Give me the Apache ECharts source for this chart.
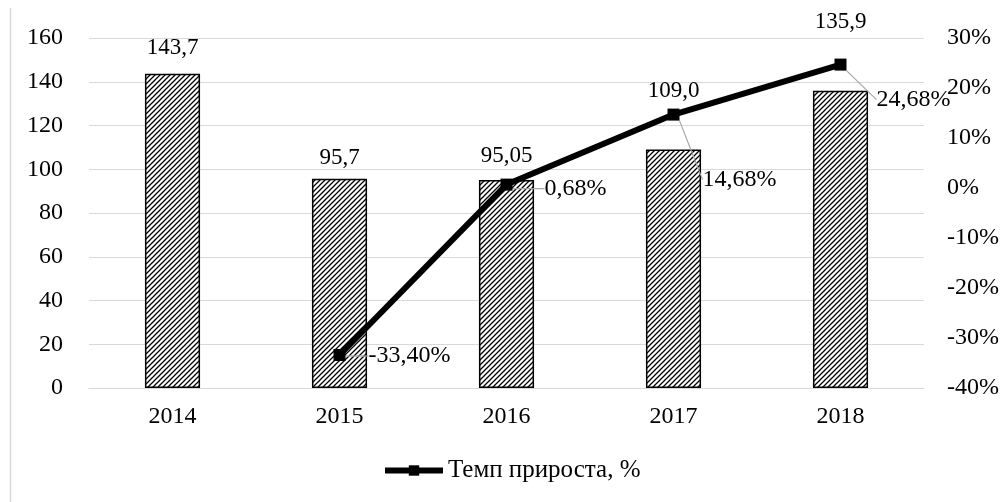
<!DOCTYPE html>
<html><head><meta charset="utf-8">
<script src="https://cdn.jsdelivr.net/npm/echarts@6/dist/echarts.min.js"></script>
<style>html,body{margin:0;padding:0;background:#fff}#c{width:1008px;height:502px}</style>
</head><body><div id="c"></div>
<script>
const categories = ['2014','2015','2016','2017','2018'];
const barValues = [143.7, 95.7, 95.05, 109.0, 135.9];
const barDecimals = [1, 1, 2, 1, 1];
const growthValues = [null, -33.40, 0.68, 14.68, 24.68];
const leftTicks = {min: 0, max: 160, interval: 20};
const rightTicks = {min: -40, max: 30, interval: 10};
const seriesName = 'Темп прироста, %';

// presentation-only offsets for labels
const barLabelOffsets = [[0,-9],[0,-4],[0,-8],[0,-42],[0,-52]];
const lineLabelShift = [[1,1],[10,4],[1,65],[8,35]];

const FONT = '"Liberation Serif", "Times New Roman", serif';

function hatch(){
  const c = document.createElement('canvas');
  c.width = 5; c.height = 5;
  const g = c.getContext('2d');
  g.fillStyle = '#fff'; g.fillRect(0,0,5,5);
  g.strokeStyle = '#000'; g.lineWidth = 1.3;
  g.beginPath();
  g.moveTo(-1,6); g.lineTo(6,-1);
  g.moveTo(-1,1); g.lineTo(1,-1);
  g.moveTo(4,6); g.lineTo(6,4);
  g.stroke();
  return c;
}

const chart = echarts.init(document.getElementById('c'), null, {renderer:'canvas'});
chart.setOption({
  backgroundColor: '#fff',
  animation: false,
  graphic: [{type:'line', shape:{x1:10.5,y1:8,x2:10.5,y2:502}, style:{stroke:'#d9d9d9', lineWidth:1.5}}],
  grid: {left: 89, right: 84, top: 38, bottom: 114},
  legend: {
    bottom: 14, left: 377, itemWidth: 58, itemHeight: 13, itemGap: 4,
    lineStyle: {width: 6, color: '#000'},
    textStyle: {fontFamily: FONT, fontSize: 25, color: '#000'},
    data: [{name: seriesName}]
  },
  xAxis: {
    type: 'category', data: categories,
    axisLine: {show: true, lineStyle: {color: '#d9d9d9', width: 1}},
    axisTick: {show: false},
    axisLabel: {fontFamily: FONT, fontSize: 24, color: '#000', margin: 17}
  },
  yAxis: [{
    type: 'value', min: leftTicks.min, max: leftTicks.max, interval: leftTicks.interval,
    axisLine: {show:false}, axisTick:{show:false},
    splitLine: {lineStyle: {color: '#d9d9d9', width: 1}},
    axisLabel: {fontFamily: FONT, fontSize: 24, color: '#000', margin: 26}
  },{
    type: 'value', min: rightTicks.min, max: rightTicks.max, interval: rightTicks.interval,
    axisLine: {show:false}, axisTick:{show:false}, splitLine: {show:false},
    axisLabel: {fontFamily: FONT, fontSize: 24, color: '#000', margin: 23, formatter: v => v + '%'}
  }],
  series: [{
    type: 'bar', name: 'bars', barWidth: '33%',
    data: barValues.map((v,i) => ({value: v, label: {offset: barLabelOffsets[i]}})),
    itemStyle: {color: {image: hatch(), repeat: 'repeat'}, borderColor: '#000', borderWidth: 1.5},
    label: {show: true, position: 'top', fontFamily: FONT, fontSize: 23, color: '#000',
      formatter: p => barValues[p.dataIndex].toFixed(barDecimals[p.dataIndex]).replace('.', ',')}
  },{
    type: 'line', name: seriesName, yAxisIndex: 1, data: growthValues,
    lineStyle: {color: '#000', width: 6},
    itemStyle: {color: '#000'},
    symbol: 'rect', symbolSize: 12, showSymbol: true,
    label: {show: true, position: 'right', distance: 22, fontFamily: FONT, fontSize: 24, color: '#000',
      formatter: p => p.value == null ? '' : p.value.toFixed(2).replace('.', ',') + '%'},
    labelLine: {show: true, lineStyle: {color: '#a6a6a6', width: 1.2}},
    labelLayout: p => {
      const s = lineLabelShift[p.dataIndex - 1] || [0,0];
      return {dx: s[0], dy: s[1]};
    },
    z: 5
  }]
});
</script></body></html>
